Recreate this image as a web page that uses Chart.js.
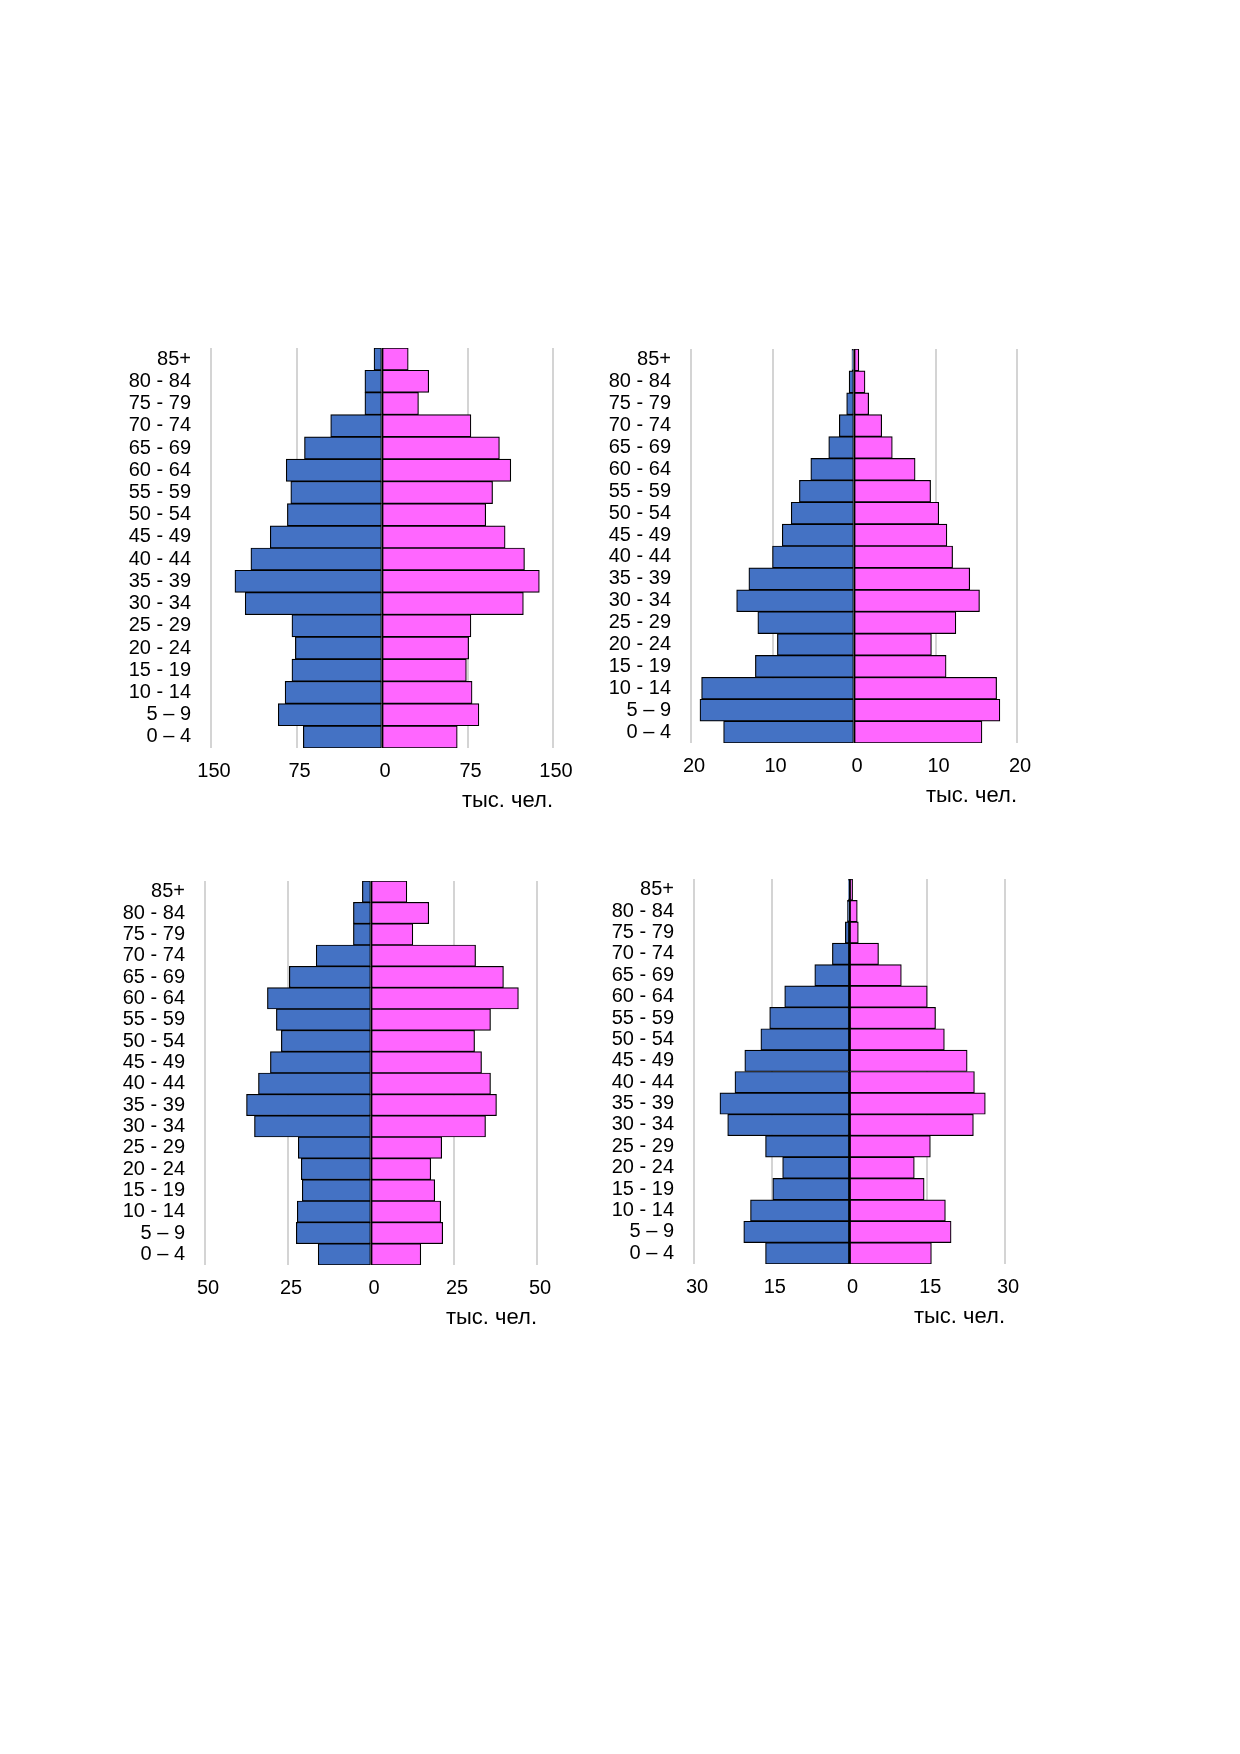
<!DOCTYPE html>
<html>
<head>
<meta charset="utf-8">
<script src="https://cdn.jsdelivr.net/npm/chart.js@4"></script>
<style>
  html, body { margin: 0; padding: 0; background: #ffffff; }
  body { width: 1240px; height: 1754px; position: relative; overflow: hidden; }
  canvas { position: absolute; }
</style>
</head>
<body>
<canvas id="c1"></canvas>
<canvas id="c2"></canvas>
<canvas id="c3"></canvas>
<canvas id="c4"></canvas>
<script>
// Age groups, top to bottom
const ageGroups = ["85+", "80 - 84", "75 - 79", "70 - 74", "65 - 69", "60 - 64", "55 - 59",
  "50 - 54", "45 - 49", "40 - 44", "35 - 39", "30 - 34", "25 - 29", "20 - 24",
  "15 - 19", "10 - 14", "5 – 9", "0 – 4"];

// Chart 1 (top-left), thousands of people
const men1   = [7, 15, 15, 45, 68, 84, 80, 83, 98, 115, 129, 120, 79, 76, 79, 85, 91, 69];
const women1 = [23, 41, 32, 78, 103, 113, 97, 91, 108, 125, 138, 124, 78, 76, 74, 79, 85, 66];
const ticks1 = [-150, -75, 0, 75, 150];

// Chart 2 (top-right)
const men2   = [0.25, 0.6, 0.9, 1.8, 3.1, 5.3, 6.7, 7.7, 8.8, 10.0, 12.9, 14.4, 11.8, 9.4, 12.1, 18.7, 18.9, 16.0];
const women2 = [0.6, 1.35, 1.8, 3.4, 4.7, 7.5, 9.4, 10.4, 11.4, 12.1, 14.2, 15.4, 12.5, 9.5, 11.3, 17.5, 17.9, 15.7];
const ticks2 = [-20, -10, 0, 10, 20];

// Chart 3 (bottom-left)
const men3   = [2.6, 5.3, 5.3, 16.5, 24.6, 31.2, 28.5, 27.0, 30.3, 33.9, 37.5, 35.1, 21.9, 21.0, 20.7, 22.2, 22.5, 15.9];
const women3 = [10.8, 17.4, 12.6, 31.5, 39.9, 44.4, 36.0, 31.2, 33.3, 36.0, 37.8, 34.5, 21.3, 18.0, 19.2, 21.0, 21.6, 15.0];
const ticks3 = [-50, -25, 0, 25, 50];

// Chart 4 (bottom-right)
const men4   = [0.2, 0.4, 0.8, 3.3, 6.7, 12.5, 15.4, 17.1, 20.2, 22.1, 25.0, 23.5, 16.2, 12.9, 14.8, 19.1, 20.4, 16.2];
const women4 = [0.6, 1.5, 1.7, 5.6, 10.0, 15.0, 16.6, 18.3, 22.7, 24.1, 26.2, 23.9, 15.6, 12.5, 14.4, 18.5, 19.6, 15.8];
const ticks4 = [-30, -15, 0, 15, 30];

const unitLabel = "тыс. чел.";

// Layout (plot areas in page pixels)
const Y_AXIS_W = 110, PAD_TOP = 15, PAD_RIGHT = 40, X_AXIS_H = 78;
const FONT = { family: "'Liberation Sans', Arial, sans-serif", size: 20 };
const TITLE_FONT = { family: "'Liberation Sans', Arial, sans-serif", size: 22 };

function makeChart(id, box, men, women, ticks) {
  const cv = document.getElementById(id);
  const W = box.w + Y_AXIS_W + PAD_RIGHT;
  const H = box.h + PAD_TOP + X_AXIS_H;
  cv.width = W; cv.height = H;
  cv.style.width = W + "px"; cv.style.height = H + "px";
  cv.style.left = (box.l - Y_AXIS_W) + "px";
  cv.style.top = (box.t - PAD_TOP) + "px";
  const maxV = ticks[ticks.length - 1];
  const step = ticks[1] - ticks[0];
  const chart = new Chart(cv, {
    type: "bar",
    data: {
      labels: ageGroups,
      datasets: [
        { label: "Мужчины", data: men.map(v => -v), backgroundColor: "#4472C4",
          borderColor: "#000000", borderWidth: 1.2, borderSkipped: false },
        { label: "Женщины", data: women, backgroundColor: "#FF66FF",
          borderColor: "#000000", borderWidth: 1.2, borderSkipped: false }
      ]
    },
    options: {
      indexAxis: "y",
      responsive: false,
      maintainAspectRatio: false,
      animation: false,
      devicePixelRatio: 1,
      layout: { padding: { top: PAD_TOP, right: PAD_RIGHT, left: 0, bottom: 0 } },
      plugins: { legend: { display: false }, tooltip: { enabled: false } },
      datasets: { bar: { barPercentage: 1.0, categoryPercentage: 1.0 } },
      scales: {
        x: {
          stacked: true,
          min: -maxV, max: maxV,
          afterBuildTicks: (s) => { s.ticks = ticks.map(v => ({ value: v })); },
          afterFit: (s) => { s.height = X_AXIS_H; },
          ticks: { stepSize: step, padding: 11, labelOffset: 3, color: "#000000", font: FONT,
                   callback: (v) => String(Math.abs(v)), maxRotation: 0 },
          grid: { color: (c) => (c.tick && c.tick.value === 0 ? "#000000" : "#d4d4d4"),
                  lineWidth: (c) => (c.tick && c.tick.value === 0 ? 1 : 2),
                  drawTicks: false },
          border: { display: false },
          title: { display: true, text: unitLabel, align: "end", color: "#000000",
                   font: TITLE_FONT, padding: { top: 0, bottom: 12 } }
        },
        y: {
          stacked: true,
          afterFit: (s) => { s.width = Y_AXIS_W; },
          ticks: { padding: 20, color: "#000000", font: FONT, autoSkip: false },
          grid: { display: false, drawTicks: false },
          border: { display: false }
        }
      }
    }
  });
  // Align the library's plot area with the intended page box
  const topOff = chart.chartArea.top;
  const H2 = Math.round(topOff + box.h + X_AXIS_H);
  cv.style.top = (box.t - topOff) + "px";
  cv.style.height = H2 + "px";
  chart.resize(W, H2);
}

makeChart("c1", { l: 211, t: 348, w: 342, h: 400 }, men1, women1, ticks1);
makeChart("c2", { l: 691, t: 349, w: 326, h: 394 }, men2, women2, ticks2);
makeChart("c3", { l: 205, t: 881, w: 332, h: 384 }, men3, women3, ticks3);
makeChart("c4", { l: 694, t: 879, w: 311, h: 385 }, men4, women4, ticks4);
</script>
</body>
</html>
